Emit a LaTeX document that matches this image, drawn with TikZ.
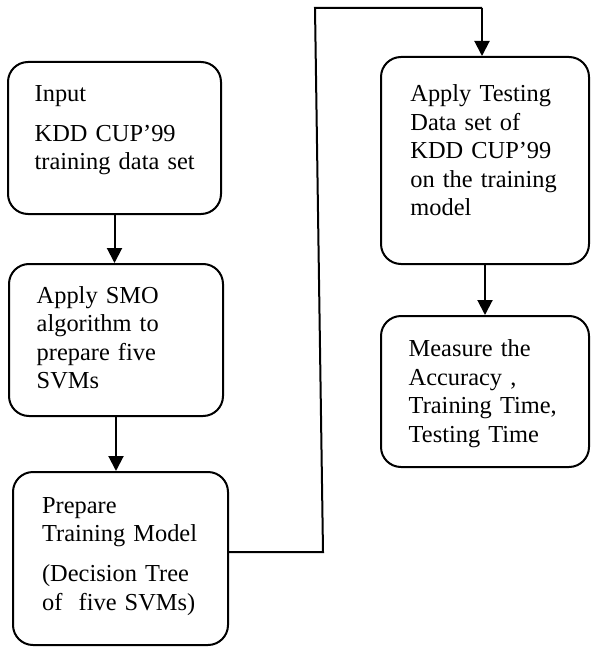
\documentclass[tikz,border=0pt]{standalone}
\usepackage{fontspec}
\setmainfont{Liberation Serif}
\usetikzlibrary{arrows.meta}
\tikzset{
  box/.style={draw, line width=1pt, rounded corners=10pt, minimum width=#1, inner sep=0pt},
  txt/.style={anchor=base west, inner sep=0pt, text width=88pt, align=left,
    font=\fontsize{12.2pt}{14.25pt}\selectfont},
  conn/.style={line width=1pt},
  arr/.style={line width=1pt, -{Triangle[length=7.5pt,width=7.5pt]}}
}
\begin{document}
\begin{tikzpicture}[x=0.5pt,y=-0.5pt]
\useasboundingbox (0,0) rectangle (590,647);
% boxes
\node[box=106.5pt, minimum height=76pt] (b1) at (114.5,138) {};
\node[box=107pt, minimum height=76pt] (b2) at (116,340) {};
\node[box=107.5pt, minimum height=86.5pt] (b3) at (120.5,558.5) {};
\node[box=104pt, minimum height=103.5pt] (b4) at (485,160.5) {};
\node[box=104pt, minimum height=75.5pt] (b5) at (485,391.5) {};
% texts
\node[txt] (t1) at (34.3,101.5) {Input\\[5.75pt]KDD CUP’99\\training data set};
\node[txt] (t2) at (36.3,303.3) {Apply SMO\\algorithm to\\prepare five\\SVMs};
\node[txt] (t3) at (41.7,513.3) {Prepare\\Training Model\\[5.75pt](Decision Tree\\of\ \ five SVMs)};
\node[txt] (t4) at (410,101.7) {Apply Testing\\Data set of\\KDD CUP’99\\on the training\\model};
\node[txt] (t5) at (408.3,356.7) {Measure the\\Accuracy ,\\Training Time,\\Testing Time};
% connectors
\coordinate (c1) at (323,552);
\coordinate (c2) at (315,8);
\coordinate (c3) at (482,8);
\draw[arr] (b1.south) -- (b1.south |- b2.north);
\draw[arr] (b2.south) -- (b2.south |- b3.north);
\draw[conn] (b3.east |- c1) -- (c1) -- (c2) -- (c3);
\draw[arr] (c3) -- (c3 |- b4.north);
\draw[arr] (b4.south) -- (b5.north);
\end{tikzpicture}
\end{document}
